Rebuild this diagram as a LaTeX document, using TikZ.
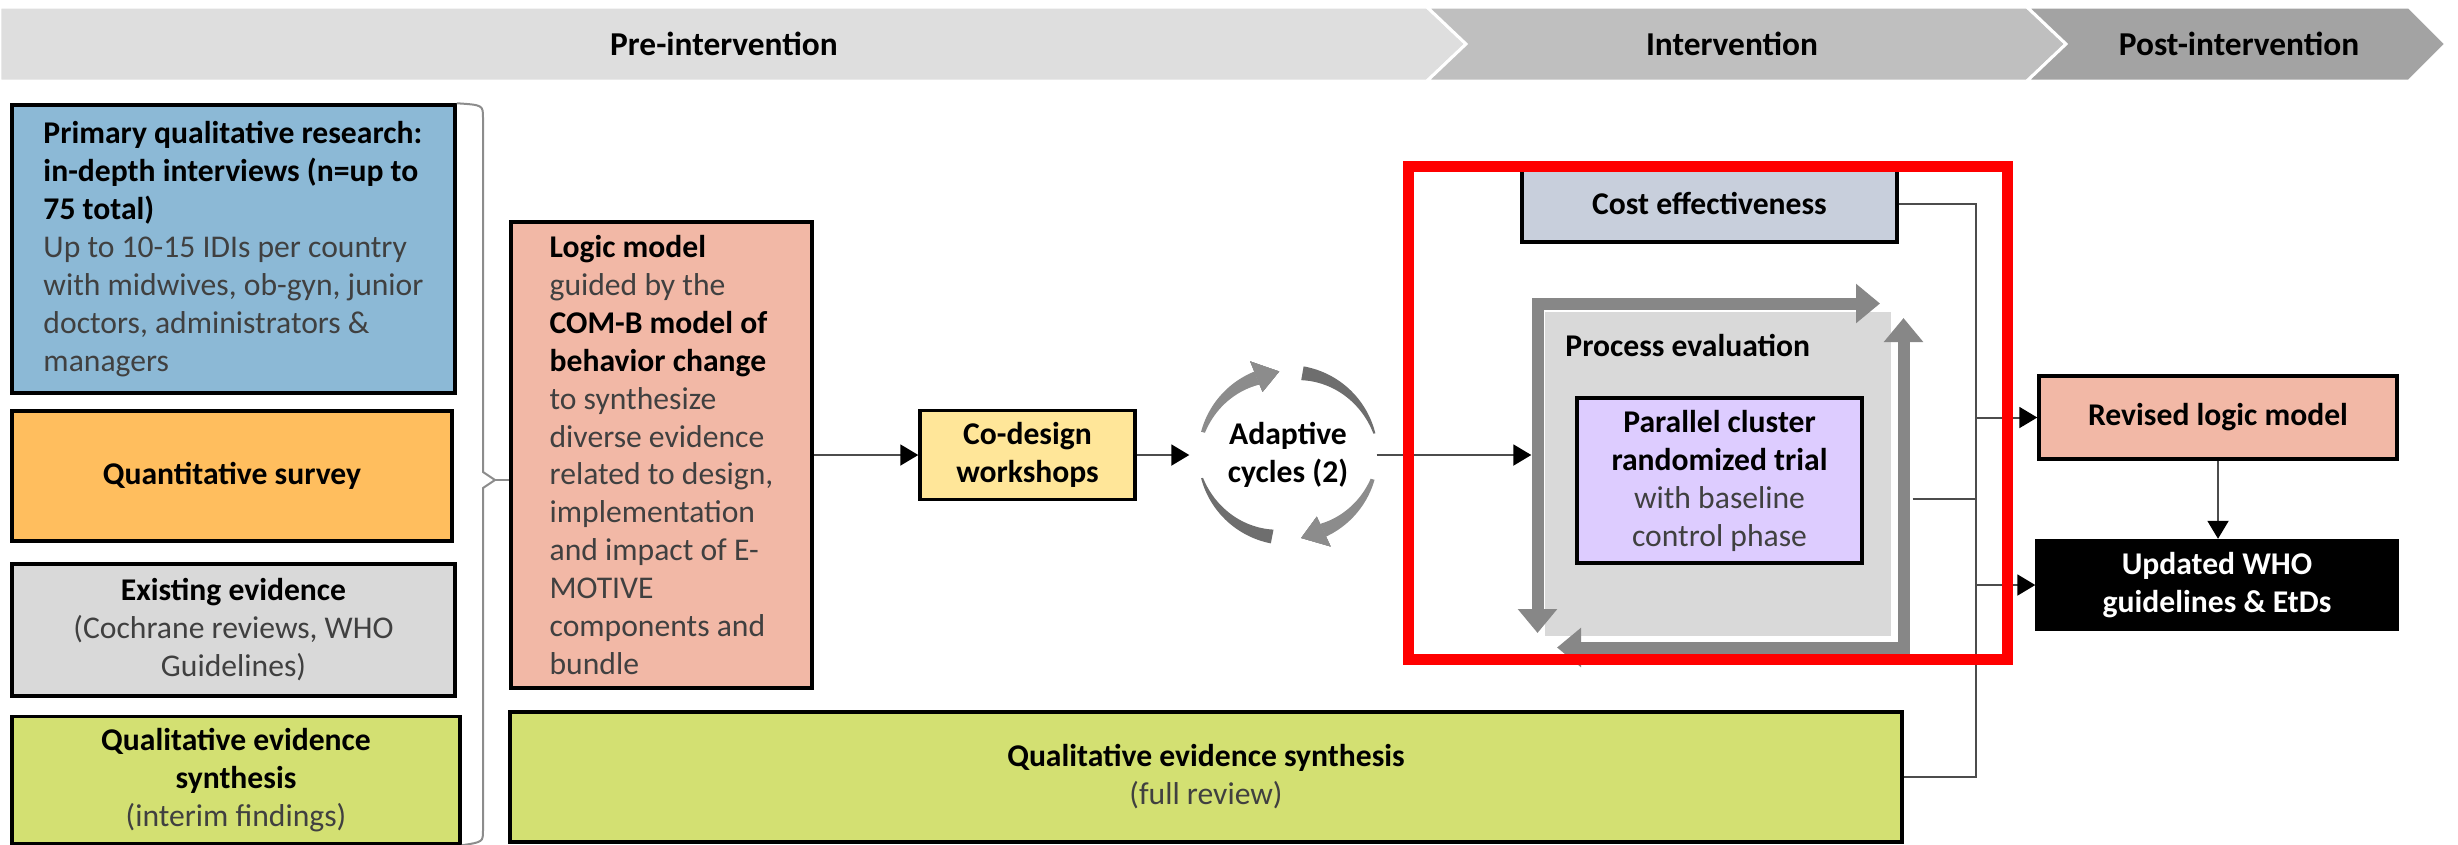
\documentclass[tikz,border=0pt]{standalone}
\usepackage{fontspec}
\setmainfont{Carlito}
\usepackage{tikz}
\usetikzlibrary{arrows.meta}
\definecolor{phasea}{HTML}{DEDEDE}
\definecolor{phaseb}{HTML}{BFBFBF}
\definecolor{phasec}{HTML}{A3A3A3}
\definecolor{bluebox}{HTML}{8CB9D6}
\definecolor{orangebox}{HTML}{FFBE5E}
\definecolor{greybox}{HTML}{D9D9D9}
\definecolor{limebox}{HTML}{D3E072}
\definecolor{salmonbox}{HTML}{F2B8A6}
\definecolor{yellowbox}{HTML}{FFE699}
\definecolor{costbox}{HTML}{C8CFDC}
\definecolor{lilacbox}{HTML}{DDCCFF}
\definecolor{bodytext}{HTML}{404040}
\definecolor{cyclelight}{HTML}{8C8C8C}
\definecolor{cycledark}{HTML}{6E6E6E}
\definecolor{framegrey}{HTML}{878787}
\newcommand\cycband[5]{\fill[#5] plot[domain=#1:#2,samples=30] ({1288+90*cos(\x)},{455-90*sin(\x)})
  -- plot[domain=#2:#1,samples=30] ({1288+(90-#3-(#4-#3)*(\x-#1)/(#2-#1))*cos(\x)},{455-(90-#3-(#4-#3)*(\x-#1)/(#2-#1))*sin(\x)}) -- cycle;}
\tikzset{
  pbox/.style={draw=black, line width=0.35mm, align=center},
  conn/.style={draw=black!70, line width=0.2mm},
  conarrow/.style={conn, -{Triangle[length=1.8mm, width=2.1mm, color=black]}},
  brace/.style={draw=black!45, line width=0.2mm},
  phase/.style={font=\fontsize{9.5}{11}\selectfont\bfseries},
  pearrow/.style={draw=framegrey, line width=1.2mm, {Triangle[length=2.4mm, width=3.8mm]}-{Triangle[length=2.4mm, width=3.8mm]}}
}
\begin{document}
\begin{tikzpicture}[x=0.1mm, y=-0.1mm, every node/.style={font=\fontsize{9}{10.8}\selectfont}]
\useasboundingbox (0,0) rectangle (2458,844);
\filldraw[fill=phasea, draw=white, line width=0.3mm] (0,7) -- (1427,7) -- (1466,44) -- (1427,81) -- (0,81) -- cycle;
\filldraw[fill=phaseb, draw=white, line width=0.3mm] (1427,7) -- (2027,7) -- (2066,44) -- (2027,81) -- (1427,81) -- (1466,44) -- cycle;
\filldraw[fill=phasec, draw=white, line width=0.3mm] (2027,7) -- (2409,7) -- (2446,44) -- (2409,81) -- (2027,81) -- (2066,44) -- cycle;
\node (pre) [phase] at (724,44) {Pre-intervention};
\node (int) [phase] at (1732,44) {Intervention};
\node (post) [phase] at (2239,44) {Post-intervention};

\node (prim) [pbox, fill=bluebox, minimum width=44.3mm, minimum height=28.8mm, align=left] at (233.5,249)
  {\textbf{Primary qualitative research:}\\\textbf{in-depth interviews (n=up to}\\\textbf{75 total)}\\
   \textcolor{bodytext}{Up to 10-15 IDIs per country}\\\textcolor{bodytext}{with midwives, ob-gyn, junior}\\
   \textcolor{bodytext}{doctors, administrators \&}\\\textcolor{bodytext}{managers}};
\node (quant) [pbox, fill=orangebox, minimum width=44mm, minimum height=13mm] at (232,476) {\textbf{Quantitative survey}};
\node (exist) [pbox, fill=greybox, minimum width=44.3mm, minimum height=13.2mm] at (233.5,630)
  {\textbf{Existing evidence}\\\textcolor{bodytext}{(Cochrane reviews, WHO}\\\textcolor{bodytext}{Guidelines)}};
\node (qes1) [pbox, fill=limebox, minimum width=44.8mm, minimum height=12.4mm] at (236,780)
  {\textbf{Qualitative evidence}\\\textbf{synthesis}\\\textcolor{bodytext}{(interim findings)}};
\node (logic) [pbox, fill=salmonbox, minimum width=30.1mm, minimum height=46.6mm, align=left] at (661.5,455)
  {\textbf{Logic model}\\\textcolor{bodytext}{guided by the}\\\textbf{COM-B model of}\\\textbf{behavior change}\\
   \textcolor{bodytext}{to synthesize}\\\textcolor{bodytext}{diverse evidence}\\\textcolor{bodytext}{related to design,}\\
   \textcolor{bodytext}{implementation}\\\textcolor{bodytext}{and impact of E-}\\\textcolor{bodytext}{MOTIVE}\\
   \textcolor{bodytext}{components and}\\\textcolor{bodytext}{bundle}};
\node (codesign) [pbox, fill=yellowbox, minimum width=21.5mm, minimum height=7.9mm] at (1027.5,455) {\textbf{Co-design}\\\textbf{workshops}};
\node (adapt) [circle, minimum size=17.6mm, align=center] at (1288,455) {\textbf{Adaptive}\\\textbf{cycles (2)}};
\node (qes2) [pbox, fill=limebox, minimum width=139.2mm, minimum height=13mm] at (1206,777)
  {\textbf{Qualitative evidence synthesis}\\\textcolor{bodytext}{(full review)}};

\node (cost) [pbox, fill=costbox, minimum width=37.5mm, minimum height=7.7mm] at (1709.5,203.5) {\textbf{Cost effectiveness}};
\filldraw[fill=greybox, draw=white, line width=0.4mm] (1543,310) rectangle (1893,638);
\draw[pearrow] (1537.5,633) -- (1537.5,303.5) -- (1880,303.5);
\draw[pearrow] (1903.5,318) -- (1903.5,647.5) -- (1557,647.5);
\node (proc) [minimum width=38mm, minimum height=35.6mm] at (1722,475) {};
\node (proclab) [anchor=west] at (1553,345) {\textbf{Process evaluation}};
\node (trial) [pbox, fill=lilacbox, minimum width=28.5mm, minimum height=16.5mm] at (1719.5,480.5)
  {\textbf{Parallel cluster}\\\textbf{randomized trial}\\\textcolor{bodytext}{with baseline}\\\textcolor{bodytext}{control phase}};
\node (revised) [pbox, fill=salmonbox, minimum width=35.8mm, minimum height=8.3mm] at (2218,417.5) {\textbf{Revised logic model}};
\node (updated) [pbox, fill=black, text=white, minimum width=36mm, minimum height=8.4mm] at (2217,585)
  {\textbf{Updated WHO}\\\textbf{guidelines \& EtDs}};

\coordinate (bracetip) at (495,480);
\draw[brace] (prim.north east) .. controls (483,105) .. (483,118) -- (483,472) -- (bracetip) -- (483,488) -- (483,830) .. controls (483,842) .. (qes1.south east);
\draw[brace] (bracetip) -- (logic.west |- bracetip);
\draw[conarrow] (logic) -- (codesign);
\draw[conarrow, shorten >=1mm] (codesign) -- (adapt);
\draw[conarrow] (adapt) -- (adapt -| proc.west);
\coordinate (bus) at (1976,203.5);
\draw[conn] (cost.east) -- (bus) |- (qes2.east);
\draw[conn] (proc.east |- 0,499) -- (bus |- 0,499);
\foreach \n in {revised,updated} \draw[conarrow] (bus |- \n.west) -- (\n.west);
\draw[conarrow] (revised.south) -- (revised.south |- updated.north);

\foreach \a/\b/\wa/\wb/\c in {165/112/4/14/cyclelight, 80/14/14/2/cycledark, 344/295/4/14/cyclelight, 259/195/14/2/cycledark}
  \cycband{\a}{\b}{\wa}{\wb}{\c}
\foreach \h in {112,295}
  \fill[cyclelight] ({1288+101*cos(\h)},{455-101*sin(\h)}) -- ({1288+68*cos(\h)},{455-68*sin(\h)}) -- ({1288+84*cos(\h-16)},{455-84*sin(\h-16)}) -- cycle;

\draw[red, line width=1.1mm] (1408,166.5) rectangle (2007.5,659.5);
\end{tikzpicture}
\end{document}
